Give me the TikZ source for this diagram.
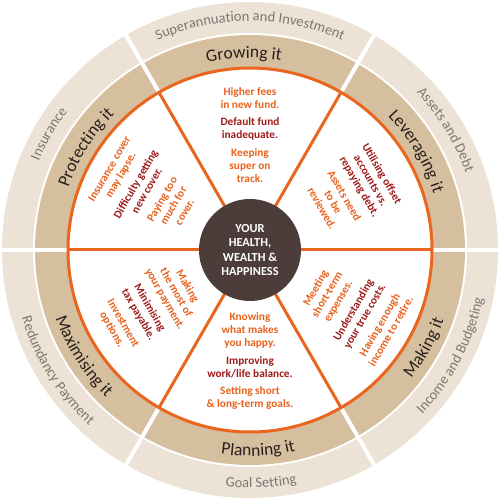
\documentclass[tikz,border=0pt]{standalone}
\usepackage{fontspec}
\setmainfont{Carlito}
\usetikzlibrary{decorations.text}
\definecolor{lightring}{RGB}{236,226,213}
\definecolor{tanring}{RGB}{214,191,159}
\definecolor{orangeline}{RGB}{234,102,30}
\definecolor{orangetext}{RGB}{232,98,30}
\definecolor{darkredtext}{RGB}{158,28,26}
\definecolor{centerfill}{RGB}{76,61,59}
\definecolor{outertext}{RGB}{125,119,115}
\definecolor{tantext}{RGB}{40,32,28}
\newcommand{\outerfnt}{\fontsize{14.5}{16}\selectfont}
\newcommand{\tanfnt}{\fontsize{17.5}{19}\selectfont}
\newcommand{\ortx}[1]{\textcolor{orangetext}{#1}}
\newcommand{\rdtx}[1]{\textcolor{darkredtext}{#1}}
\tikzset{
  outerlabel/.style={decorate, decoration={text along path, text align=center, text color=outertext, text={|\outerfnt|#1}}},
  tanlabel/.style={decorate, decoration={text along path, text align=center, text color=tantext, text={|\tanfnt|#1}}},
  innertext/.style={align=center, inner sep=0pt, font=\fontsize{11.3}{13}\selectfont\bfseries},
  hubstyle/.style={circle, fill=centerfill, minimum size=102pt, inner sep=0pt, align=center, text=white, font=\fontsize{12.3}{14.5}\selectfont\bfseries},
  divider/.style={white, line width=4pt},
  spoke/.style={orangeline, line width=3pt}
}
\begin{document}
\begin{tikzpicture}[x=1pt,y=1pt]
\useasboundingbox (0,0) rectangle (500,501);
\begin{scope}[shift={(250,251)}]
\coordinate (O) at (0,0);
% rings
\fill[lightring] (O) circle[radius=248pt];
\fill[white] (O) circle[radius=217pt];
\fill[tanring] (O) circle[radius=215pt];
\fill[white] (O) circle[radius=182pt];
\foreach \a in {0,60,...,300} {
  \coordinate (din\a) at (\a:180pt);
  \coordinate (dout\a) at (\a:251pt);
  \draw[divider] (din\a) -- (dout\a);
  \coordinate (srim\a) at (\a:182pt);
  \draw[spoke] (O) -- (srim\a);
}
\draw[spoke] (O) circle[radius=182pt];
% hub
\node[hubstyle] (hub) at (O) {YOUR\\HEALTH,\\WEALTH \&\\HAPPINESS};
% outer ring labels
\path[outerlabel={Insurance}] (180:229pt) arc[start angle=180, end angle=120, radius=229pt];
\path[outerlabel={Superannuation and Investment}] (120:229pt) arc[start angle=120, end angle=60, radius=229pt];
\path[outerlabel={Assets and Debt}] (61.5:229pt) arc[start angle=61.5, end angle=1.5, radius=229pt];
\path[outerlabel={Redundancy Payment}] (182:238pt) arc[start angle=182, end angle=242, radius=238pt];
\path[outerlabel={Goal Setting}] (242.7:238pt) arc[start angle=242.7, end angle=302.7, radius=238pt];
\path[outerlabel={Income and Budgeting}] (302.3:238pt) arc[start angle=302.3, end angle=362.3, radius=238pt];
% tan ring labels
\path[tanlabel={Protecting it}] (178:192pt) arc[start angle=178, end angle=118, radius=192pt];
\path[tanlabel={Growing it}] (121.8:192pt) arc[start angle=121.8, end angle=61.8, radius=192pt];
\path[tanlabel={Leveraging it}] (60.6:192pt) arc[start angle=60.6, end angle=0.6, radius=192pt];
\path[tanlabel={Maximising it}] (182.5:206pt) arc[start angle=182.5, end angle=242.5, radius=206pt];
\path[tanlabel={Planning it}] (242.3:206pt) arc[start angle=242.3, end angle=302.3, radius=206pt];
\path[tanlabel={Making it}] (300.8:206pt) arc[start angle=300.8, end angle=360.8, radius=206pt];
% inner texts
\node[innertext] (growtext) at (90:115pt) {\ortx{Higher fees}\\\ortx{in new fund.}\\[4.5pt]\rdtx{Default fund}\\\rdtx{inadequate.}\\[4.5pt]\ortx{Keeping}\\\ortx{super on}\\\ortx{track.}};
\node[innertext] (plantext) at (270:111pt) {\ortx{Knowing}\\\ortx{what makes}\\\ortx{you happy.}\\[4.5pt]\rdtx{Improving}\\\rdtx{work/life balance.}\\[4.5pt]\ortx{Setting short}\\\ortx{\& long-term goals.}};
\node[innertext, rotate=60] (prottext) at (150:119pt) {\ortx{Insurance cover}\\\ortx{may lapse.}\\[4.5pt]\rdtx{Difficulty getting}\\\rdtx{new cover.}\\[4.5pt]\ortx{Paying too}\\\ortx{much for}\\\ortx{cover.}};
\node[innertext, rotate=-60] (levtext) at (30:118pt) {\rdtx{Utilising offset}\\\rdtx{accounts vs.}\\\rdtx{repaying debt.}\\[4.5pt]\ortx{Assets need}\\\ortx{to be}\\\ortx{reviewed.}};
\node[innertext, rotate=-60] (maxtext) at (210:116pt) {\ortx{Making}\\\ortx{the most of}\\\ortx{your payment.}\\[4.5pt]\rdtx{Minimising}\\\rdtx{tax payable.}\\[4.5pt]\ortx{Investment}\\\ortx{options.}};
\node[innertext, rotate=60] (maketext) at (330:119pt) {\ortx{Meeting}\\\ortx{short-term}\\\ortx{expenses.}\\[4.5pt]\rdtx{Understanding}\\\rdtx{your true costs.}\\[4.5pt]\ortx{Having enough}\\\ortx{income to retire.}};
\end{scope}
\end{tikzpicture}
\end{document}
